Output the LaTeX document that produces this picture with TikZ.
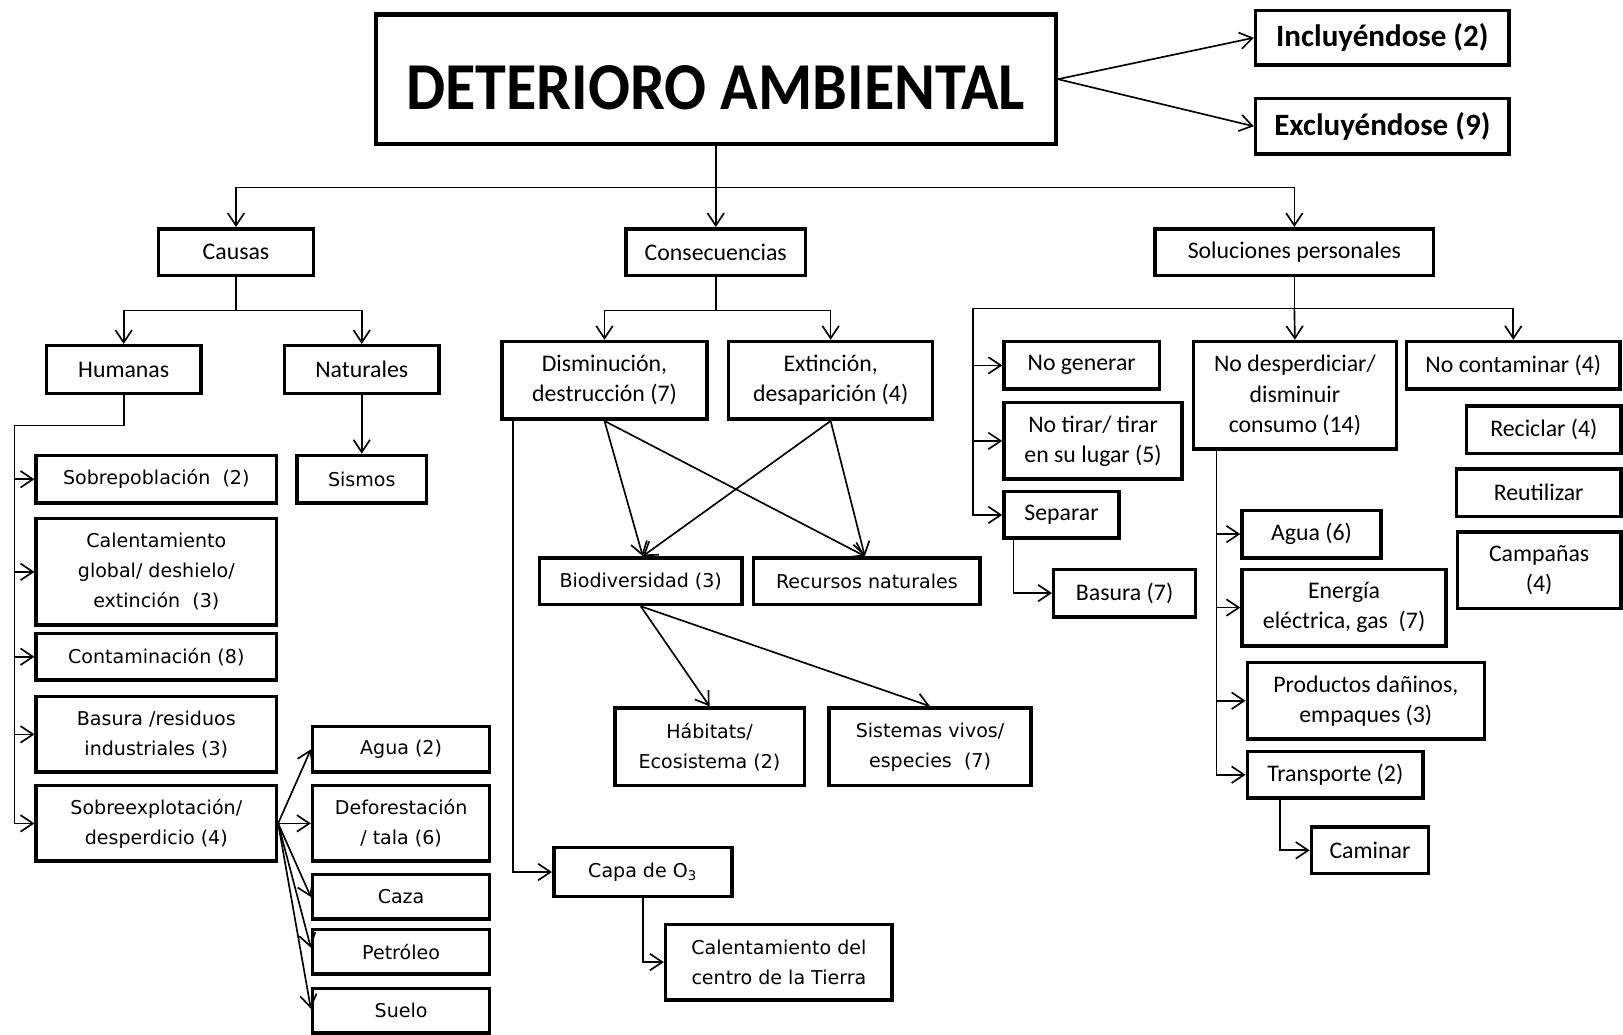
\documentclass[tikz,border=0pt]{standalone}
\usepackage{fontspec}
\usepackage{graphicx}
\setmainfont{Carlito}
\newfontfamily\vfont{DejaVu Sans}
\usetikzlibrary{arrows.meta}

% place a box by its corner coordinates
\newcommand\placebox[7]{%
  \node[#6, minimum width={(#4-(#2))*0.5pt}, minimum height={(#5-(#3))*0.5pt}]
    (#1) at ({(#2+#4)/2},{(#3+#5)/2}) {#7};}

\begin{document}
\begin{tikzpicture}[x=0.5pt,y=-0.5pt,
  basebox/.style={draw, line width=1.7pt, inner sep=0pt, align=center},
  cal/.style={basebox, font={\fontsize{11.5}{14.5}\selectfont}},
  ver/.style={basebox, font={\vfont\fontsize{9.2}{14.5}\selectfont}},
  titlebox/.style={draw, line width=2.1pt, inner sep=0pt, text height=29pt, text depth=0pt,
    font={\bfseries\fontsize{30}{34}\selectfont}},
  boldbox/.style={basebox, font={\bfseries\fontsize{15}{18}\selectfont}},
  conn/.style={line width=0.8pt, -{Straight Barb[length=6pt,width=8pt,line width=0.8pt]}},
  bus/.style={line width=0.8pt}]

\fill[white] (0,0) rectangle (1568,999);
\useasboundingbox (0,0) rectangle (1568,999);

% top level
\placebox{title}{363}{14}{1020}{139}{titlebox}{\scalebox{1}[1.08]{DETERIORO AMBIENTAL}}
\placebox{incl}{1213}{10}{1458}{63}{boldbox}{Incluyéndose (2)}
\placebox{excl}{1213}{95}{1458}{149}{boldbox}{Excluyéndose (9)}

\placebox{causas}{153}{221}{303}{266}{cal}{Causas}
\placebox{cons}{605}{221}{778}{266}{cal}{Consecuencias}
\placebox{sol}{1116}{221}{1385}{266}{cal}{Soluciones personales}

% causes
\placebox{hum}{45}{334}{194}{380}{cal}{Humanas}
\placebox{nat}{275}{334}{424}{380}{cal}{Naturales}
\placebox{sismos}{287}{440}{412}{486}{ver}{Sismos}
\placebox{sobrep}{35}{440}{267}{486}{ver}{Sobrepoblación\ \ (2)}
\placebox{calglob}{35}{501}{267}{604}{ver}{Calentamiento\\global/ deshielo/\\extinción\ \ (3)}
\placebox{contam}{35}{612}{267}{657}{ver}{Contaminación (8)}
\placebox{basres}{35}{673}{267}{746}{ver}{Basura /residuos\\industriales (3)}
\placebox{sobreexp}{35}{759}{267}{832}{ver}{Sobreexplotación/\\desperdicio (4)}
\placebox{agua2}{302}{702}{473}{746}{ver}{Agua (2)}
\placebox{defor}{302}{759}{473}{832}{ver}{Deforestación\\/ tala (6)}
\placebox{caza}{302}{845}{473}{888}{ver}{Caza}
\placebox{petro}{302}{898}{473}{941}{ver}{Petróleo}
\placebox{suelo}{302}{955}{473}{998}{ver}{Suelo}

% consequences
\placebox{dism}{485}{330}{683}{405}{cal}{Disminución,\\destrucción (7)}
\placebox{ext}{704}{330}{901}{405}{cal}{Extinción,\\desaparición (4)}
\placebox{bio}{521}{539}{717}{584}{ver}{Biodiversidad (3)}
\placebox{recur}{728}{539}{947}{584}{ver}{Recursos naturales}
\placebox{habit}{594}{684}{777}{759}{ver}{Hábitats/\\Ecosistema (2)}
\placebox{sistv}{801}{684}{996}{759}{ver}{Sistemas vivos/\\especies\ \ (7)}
\placebox{capa}{535}{819}{707}{866}{ver}{Capa de O\textsubscript{3}}
\placebox{calcen}{643}{893}{862}{966}{ver}{Calentamiento del\\centro de la Tierra}

% personal solutions
\placebox{nogen}{970}{330}{1120}{376}{cal}{No generar}
\placebox{notir}{970}{389}{1142}{463}{cal}{No tirar/ tirar\\en su lugar (5)}
\placebox{separ}{970}{475}{1081}{520}{cal}{Separar}
\placebox{basura7}{1018}{550}{1155}{596}{cal}{Basura (7)}
\placebox{nodesp}{1153}{330}{1349}{434}{cal}{No desperdiciar/\\disminuir\\consumo (14)}
\placebox{nocont}{1359}{330}{1565}{376}{cal}{No contaminar (4)}
\placebox{recic}{1417}{392}{1566}{438}{cal}{Reciclar (4)}
\placebox{reut}{1407}{453}{1566}{499}{cal}{Reutilizar}
\placebox{camp}{1408}{514}{1566}{588}{cal}{Campañas\\(4)}
\placebox{agua6}{1200}{493}{1334}{539}{cal}{Agua (6)}
\placebox{energ}{1200}{550}{1397}{624}{cal}{Energía\\eléctrica, gas\ \ (7)}
\placebox{produc}{1205}{640}{1434}{714}{cal}{Productos dañinos,\\empaques (3)}
\placebox{transp}{1205}{726}{1375}{771}{cal}{Transporte (2)}
\placebox{camin}{1267}{799}{1380}{844}{cal}{Caminar}

% junction points
\coordinate (j0) at (691.5,181);
\coordinate (cj) at (691.5,300);
\coordinate (hj) at (228,300);
\coordinate (hb) at (14,411);
\coordinate (sj) at (1250.5,298);
\coordinate (sb) at (940,298);

% title connectors
\draw[conn] (title.east) -- (incl.west);
\draw[conn] (title.east) -- (excl.west);
\draw[bus] (title.south) -- (j0);
\draw[conn] (j0) -| (causas.north);
\draw[conn] (j0) -- (cons.north);
\draw[conn] (j0) -| (sol.north);

% causes connectors
\draw[bus] (causas.south) -- (hj);
\draw[conn] (hj) -| (hum.north);
\draw[conn] (hj) -| (nat.north);
\draw[conn] (nat.south) -- (sismos.north);
\draw[conn] (hum.south) |- (hb) |- (sobreexp.west);
\draw[conn] (hb |- sobrep.west) -- (sobrep.west);
\draw[conn] (hb |- calglob.west) -- (calglob.west);
\draw[conn] (hb |- contam.west) -- (contam.west);
\draw[conn] (hb |- basres.west) -- (basres.west);
\draw[conn] (sobreexp.east) -- (agua2.west);
\draw[conn] (sobreexp.east) -- (defor.west);
\draw[conn] (sobreexp.east) -- (caza.west);
\draw[conn] (sobreexp.east) -- ([yshift=2pt]petro.west);
\draw[conn] (sobreexp.east) -- ([yshift=1pt]suelo.west);

% consequences connectors
\draw[bus] (cons.south) -- (cj);
\draw[conn] (cj) -| (dism.north);
\draw[conn] (cj) -| (ext.north);
\draw[conn] (dism.south) -- ([xshift=1pt]bio.north);
\draw[conn] (dism.south) -- ([xshift=-1pt]recur.north);
\draw[conn] (ext.south) -- ([xshift=1pt]bio.north);
\draw[conn] (ext.south) -- ([xshift=-1pt]recur.north);
\draw[conn] (bio.south) -- (habit.north);
\draw[conn] (bio.south) -- (sistv.north);
\draw[conn] ([xshift=6pt]dism.south west) |- (capa.west);
\draw[conn] (capa.south) |- (calcen.west);

% solutions connectors
\draw[bus] (sol.south) -- (sj);
\draw[conn] (sj) -- (nodesp.north);
\draw[conn] (sj) -| (nocont.north);
\draw[conn] (sj) -- (sb) |- (separ.west);
\draw[conn] (sb |- nogen.west) -- (nogen.west);
\draw[conn] (sb |- notir.west) -- (notir.west);
\draw[conn] ([xshift=5.5pt]separ.south west) |- (basura7.west);
\draw[conn] ([xshift=12pt]nodesp.south west) |- (transp.west);
\coordinate (nb) at ([xshift=12pt]nodesp.south west);
\draw[conn] (nb |- agua6.west) -- (agua6.west);
\draw[conn] (nb |- energ.west) -- (energ.west);
\draw[conn] (nb |- produc.west) -- (produc.west);
\draw[conn] ([xshift=16.5pt]transp.south west) |- (camin.west);

\end{tikzpicture}
\end{document}
